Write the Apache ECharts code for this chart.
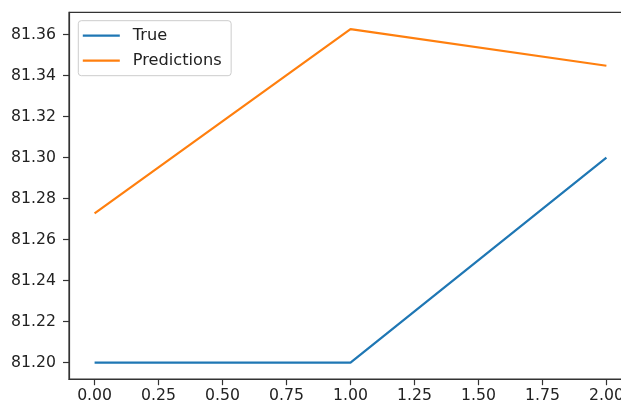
<!DOCTYPE html>
<html>
<head>
<meta charset="utf-8">
<script src="https://cdn.jsdelivr.net/npm/echarts@6/dist/echarts.min.js"></script>
<style>
html,body{margin:0;padding:0;background:#fff;}
#c{width:621px;height:407px;}
</style>
</head>
<body>
<div id="c"></div>
<script>
const xValues = [0, 1, 2];
const trueValues = [81.20, 81.20, 81.30];
const predValues = [81.2728, 81.3627, 81.3448];
const xTicks = [0, 0.25, 0.5, 0.75, 1.0, 1.25, 1.5, 1.75, 2.0];
const yTicks = [81.20, 81.22, 81.24, 81.26, 81.28, 81.30, 81.32, 81.34, 81.36];
const seriesNames = ['True', 'Predictions'];

const allY = trueValues.concat(predValues);
const yLo = Math.min(...allY), yHi = Math.max(...allY);
const yPad = (yHi - yLo) * 0.05;
const xPad = (Math.max(...xValues) - Math.min(...xValues)) * 0.05;

const font = 'DejaVu Sans';
const chart = echarts.init(document.getElementById('c'), null, {renderer: 'canvas'});
chart.setOption({
  animation: false,
  backgroundColor: '#ffffff',
  grid: {left: 69, top: 12.4, width: 563, height: 366.8, show: true, borderColor: '#333', borderWidth: 1.2, backgroundColor: 'transparent', containLabel: false, outerBoundsMode: 'none'},
  legend: {
    orient: 'vertical', left: 78.3, top: 20.7,
    backgroundColor: 'rgba(255,255,255,0.8)', borderColor: '#cccccc', borderWidth: 1, borderRadius: 3,
    padding: [7, 9.5, 7, 4.5], itemGap: 9, itemWidth: 37, itemHeight: 16,
    textStyle: {fontFamily: font, fontSize: 16.2, color: '#222', padding: [0, 0, 0, 8]},
    data: [
      {name: seriesNames[0], icon: 'path://M0,7 L37,7 L37,9.2 L0,9.2 Z', itemStyle: {color: '#1f77b4'}},
      {name: seriesNames[1], icon: 'path://M0,7 L37,7 L37,9.2 L0,9.2 Z', itemStyle: {color: '#ff7f0e'}}
    ]
  },
  xAxis: {
    type: 'value', min: Math.min(...xValues) - xPad, max: Math.max(...xValues) + xPad,
    splitLine: {show: false},
    axisLine: {show: true, onZero: false, lineStyle: {color: '#333', width: 1.2}},
    axisTick: {show: true, length: 6, customValues: xTicks, lineStyle: {color: '#333', width: 1.2}},
    axisLabel: {customValues: xTicks, margin: 9, fontFamily: font, fontSize: 15.7, color: '#222', formatter: v => v.toFixed(2), hideOverlap: false}
  },
  yAxis: {
    type: 'value', min: yLo - yPad, max: yHi + yPad,
    splitLine: {show: false},
    axisLine: {show: true, onZero: false, lineStyle: {color: '#333', width: 1.2}},
    axisTick: {show: true, length: 6, customValues: yTicks, lineStyle: {color: '#333', width: 1.2}},
    axisLabel: {customValues: yTicks, margin: 13, fontFamily: font, fontSize: 15.7, color: '#222', formatter: v => v.toFixed(2)}
  },
  series: [
    {name: seriesNames[0], type: 'line', data: xValues.map((x, i) => [x, trueValues[i]]), symbol: 'none', color: '#1f77b4', lineStyle: {width: 2.2, color: '#1f77b4'}},
    {name: seriesNames[1], type: 'line', data: xValues.map((x, i) => [x, predValues[i]]), symbol: 'none', color: '#ff7f0e', lineStyle: {width: 2.2, color: '#ff7f0e'}}
  ]
});
</script>
</body>
</html>
